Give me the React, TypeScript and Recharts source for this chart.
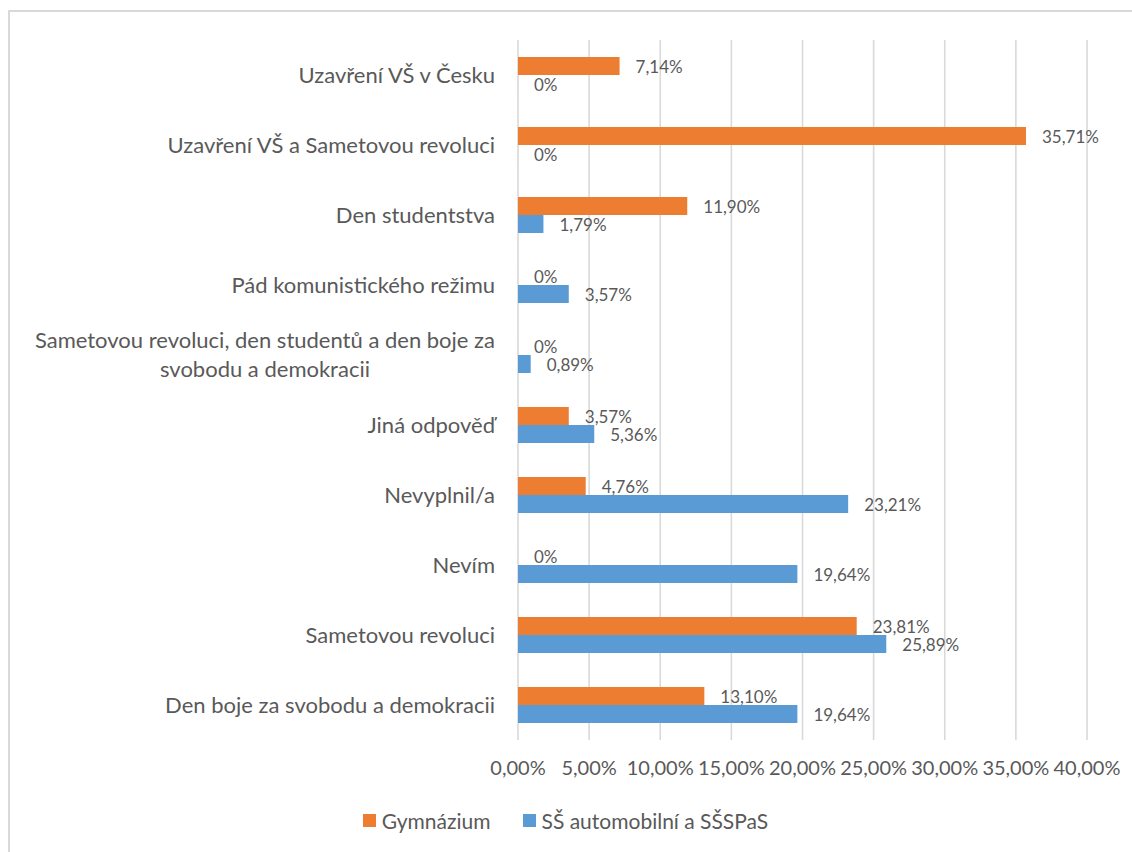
import React from 'react';
import {
  BarChart,
  Bar,
  XAxis,
  YAxis,
  CartesianGrid,
  Legend,
  LabelList,
} from 'recharts';

const categories = [
  'Uzavření VŠ v Česku',
  'Uzavření VŠ a Sametovou revoluci',
  'Den studentstva',
  'Pád komunistického režimu',
  'Sametovou revoluci, den studentů a den boje za svobodu a demokracii',
  'Jiná odpověď',
  'Nevyplnil/a',
  'Nevím',
  'Sametovou revoluci',
  'Den boje za svobodu a demokracii',
];

const gymnazium = [7.14, 35.71, 11.9, 0, 0, 3.57, 4.76, 0, 23.81, 13.1];
const ssAuto = [0, 0, 1.79, 3.57, 0.89, 5.36, 23.21, 19.64, 25.89, 19.64];

const xTicks = [0, 5, 10, 15, 20, 25, 30, 35, 40];

const seriesNames = ['Gymnázium', 'SŠ automobilní a SŠSPaS'];
const colors = ['#ED7D31', '#5B9BD5'];

const data = categories.map((name, i) => ({
  name,
  gym: gymnazium[i],
  ss: ssAuto[i],
}));

const FONT = 'Lato, "Open Sans", sans-serif';
const TEXT = '#595959';
const CAT_SIZE = 22;

const fmtTick = (v: number) => v.toFixed(2).replace('.', ',') + '%';
const fmtLabel = (v: any) => (Number(v) === 0 ? '0%' : Number(v).toFixed(2).replace('.', ',') + '%');

let ctx: CanvasRenderingContext2D | null = null;
function measure(text: string) {
  if (!ctx) ctx = document.createElement('canvas').getContext('2d');
  if (!ctx) return text.length * CAT_SIZE * 0.5;
  ctx.font = `${CAT_SIZE}px Lato`;
  return ctx.measureText(text).width;
}

function wrap(text: string, maxW: number) {
  const words = text.split(' ');
  const lines: string[] = [];
  let cur = '';
  words.forEach((w) => {
    const next = cur ? cur + ' ' + w : w;
    if (cur && measure(next) > maxW) {
      lines.push(cur);
      cur = w;
    } else {
      cur = next;
    }
  });
  if (cur) lines.push(cur);
  return lines;
}

function CategoryTick(props: any) {
  const { x, y, payload } = props;
  const lines = wrap(payload.value, 470);
  if (lines.length === 1) {
    return (
      <text x={x} y={y} dy="0.35em" textAnchor="end" fill={TEXT} fontSize={CAT_SIZE} fontFamily={FONT}>
        {payload.value}
      </text>
    );
  }
  const widest = Math.max(...lines.map(measure));
  const cx = x - widest / 2;
  return (
    <text x={cx} y={y} textAnchor="middle" fill={TEXT} fontSize={CAT_SIZE} fontFamily={FONT}>
      {lines.map((l, i) => (
        <tspan key={i} x={cx} y={y + (i - (lines.length - 1) / 2) * 29} dy="0.35em">
          {l}
        </tspan>
      ))}
    </text>
  );
}

// draws value labels, also for zero-width bars
function ValueLabel(props: any) {
  const { x, y, width, height, value } = props;
  if (value === undefined || value === null) return null;
  return (
    <text
      x={Number(x) + Number(width || 0) + 16}
      y={Number(y) + Number(height) / 2 + 1}
      dy="0.35em"
      fill={TEXT}
      fontSize={17}
      fontFamily={FONT}
    >
      {fmtLabel(value)}
    </text>
  );
}

function LegendBox() {
  return (
    <div
      style={{
        height: 30,
        display: 'flex',
        justifyContent: 'center',
        alignItems: 'center',
        paddingLeft: 34,
        transform: 'translateY(-4px)',
        fontFamily: FONT,
        fontSize: 21,
        color: TEXT,
      }}
    >
      {seriesNames.map((n, i) => (
        <div key={n} style={{ display: 'flex', alignItems: 'center', marginRight: i === 0 ? 32 : 0 }}>
          <span style={{ width: 13, height: 13, background: colors[i], marginRight: 6, display: 'inline-block' }} />
          <span>{n}</span>
        </div>
      ))}
    </div>
  );
}

export default function App() {
  return (
    <div
      style={{
        position: 'absolute',
        left: 8,
        top: 10,
        width: 1140,
        height: 860,
        borderTop: '2px solid #d9d9d9',
        borderLeft: '2px solid #d9d9d9',
        background: '#fff',
      }}
    >
      <BarChart
        width={1110}
        height={840}
        data={data}
        layout="vertical"
        margin={{ top: 28, right: 33, bottom: 13, left: 0 }}
        barSize={18}
        barGap={0}
      >
        <CartesianGrid horizontal={false} stroke="#d9d9d9" strokeWidth={1.6} />
        <XAxis
          type="number"
          domain={[0, 40]}
          ticks={xTicks}
          tickFormatter={fmtTick}
          axisLine={false}
          tickLine={false}
          tickSize={0}
          tickMargin={21}
          height={69}
          interval={0}
          tick={{ fill: TEXT, fontSize: 20, fontFamily: FONT }}
        />
        <YAxis
          type="category"
          dataKey="name"
          width={508}
          axisLine={false}
          tickLine={false}
          tickSize={0}
          tickMargin={23}
          interval={0}
          tick={<CategoryTick />}
        />
        <Legend verticalAlign="bottom" content={() => <LegendBox />} />
        <Bar
          dataKey="gym"
          name={seriesNames[0]}
          fill={colors[0]}
          minPointSize={(v: number) => (v === 0 ? 0.01 : 0)}
          isAnimationActive={false}
        >
          <LabelList dataKey="gym" content={<ValueLabel />} />
        </Bar>
        <Bar
          dataKey="ss"
          name={seriesNames[1]}
          fill={colors[1]}
          minPointSize={(v: number) => (v === 0 ? 0.01 : 0)}
          isAnimationActive={false}
        >
          <LabelList dataKey="ss" content={<ValueLabel />} />
        </Bar>
      </BarChart>
    </div>
  );
}
